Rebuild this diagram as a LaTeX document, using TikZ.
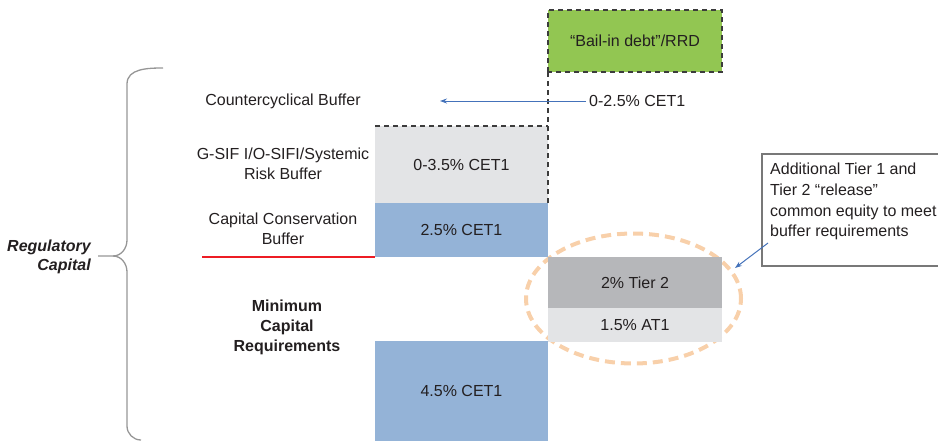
\documentclass[tikz,border=0pt]{standalone}
\usepackage{fontspec}
\setmainfont{Liberation Sans}
\usetikzlibrary{shapes.geometric,arrows.meta}
\definecolor{txt}{RGB}{35,31,32}
\definecolor{cgreen}{RGB}{146,198,82}
\definecolor{cblue}{RGB}{148,179,215}
\definecolor{clgray}{RGB}{227,228,230}
\definecolor{cmgray}{RGB}{182,183,186}
\definecolor{cpeach}{RGB}{248,208,170}
\definecolor{carrow}{RGB}{68,114,186}
\definecolor{cred}{RGB}{237,28,36}
\definecolor{cbrace}{RGB}{150,150,150}
\definecolor{cdash}{RGB}{60,60,60}
\definecolor{cboxline}{RGB}{120,120,120}
\begin{document}
\begin{tikzpicture}[x=1pt,y=-1pt,
  every node/.style={font=\fontsize{16}{19.5}\selectfont, text=txt},
  boxn/.style={anchor=north west, inner sep=0pt, outer sep=0pt},
  dsh/.style={draw=cdash, line width=1.4pt, dash pattern=on 5pt off 4pt},
  lbl/.style={align=center},
  blarrow/.style={draw=carrow, line width=1pt, -{Stealth[length=7pt,width=5pt]}}]
\useasboundingbox (0,0) rectangle (938,440);
\clip (0,0) rectangle (938,440);

% brace
\draw[cbrace, line width=1.3pt] (163,68) to[out=180,in=90] (127,84) -- (127,240)
  to[out=-90,in=0] (113,256) -- (98,256);
\draw[cbrace, line width=1.3pt] (113,256) to[out=0,in=90] (127,272) -- (127,426)
  to[out=-90,in=180] (141,440);
\node[lbl, align=right, font=\fontsize{16}{19.5}\selectfont\bfseries\itshape] (reg) at (49,257) {Regulatory\\Capital};

% left labels
\node[lbl] (ccb) at (283,101) {Countercyclical Buffer};
\node[lbl] (gsif) at (283,164) {G-SIF I/O-SIFI/Systemic\\Risk Buffer};
\node[lbl] (ccons) at (283,229) {Capital Conservation\\Buffer};
\node[lbl, font=\fontsize{16}{20}\selectfont\bfseries] (mcr) at (287,327) {Minimum\\Capital\\Requirements};

% ellipse (under boxes)
\node[ellipse, draw=cpeach, line width=4pt, dash pattern=on 10pt off 6pt,
  minimum width=215pt, minimum height=130pt, inner sep=0pt] (ell) at (633.5,298.5) {};

% stacked boxes
\node[boxn, fill=cgreen, minimum width=174pt, minimum height=62pt] (bail) at (548,10) {“Bail-in debt”/RRD};
\draw[dsh] (bail.south west) rectangle (bail.north east);
\node[boxn, fill=clgray, minimum width=173pt, minimum height=77pt] (sys) at (375,126) {0-3.5\% CET1};
\node[boxn, fill=cblue, minimum width=173pt, minimum height=54pt] (cons) at (375,203) {2.5\% CET1};
\node[boxn, fill=cmgray, minimum width=174pt, minimum height=51pt] (t2) at (548,257) {2\% Tier 2};
\node[boxn, fill=clgray, minimum width=174pt, minimum height=34pt] (at1) at (548,308) {1.5\% AT1};
\node[boxn, fill=cblue, minimum width=173pt, minimum height=100pt] (minb) at (375,341) {4.5\% CET1};

\draw[dsh] (sys.north west) -- (sys.north east);
\draw[dsh] (bail.south west) -- (sys.south east);

% red line
\draw[cred, line width=2.6pt] (202,257) -- (sys.west |- cons.south);

% countercyclical arrow
\node[anchor=west, inner sep=3pt] (cet) at (586,101) {0-2.5\% CET1};
\coordinate (ccbend) at (440,101);
\draw[blarrow] (cet.west) -- (ccbend);

% additional box
\node[boxn, draw=cboxline, line width=1.2pt, minimum width=200pt, minimum height=112pt] (addbox) at (762,154) {};
\node[anchor=north west, align=left, inner sep=0pt, font=\fontsize{16}{20.7}\selectfont] (addtxt) at (770,163)
  {Additional Tier 1 and\\Tier 2 “release”\\common equity to meet\\buffer requirements};
\coordinate (addstart) at (768,243);
\coordinate (ellend) at (735,268);
\draw[blarrow] (addstart) -- (ellend);
\end{tikzpicture}
\end{document}
